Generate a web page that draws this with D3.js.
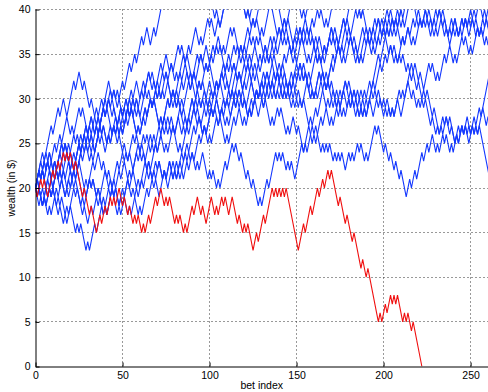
<!DOCTYPE html>
<html>
<head>
<meta charset="utf-8">
<script src="https://cdn.jsdelivr.net/npm/d3@7"></script>
<style>
  body { margin: 0; background: #fff; }
  text { font-family: "Liberation Sans", Arial, Helvetica, sans-serif; }
</style>
</head>
<body>
<svg id="chart" width="488" height="392"></svg>
<script>
// every walk starts with $20; each entry is a run of won (+) or lost (-) bets
const startWealth = 20;
const xTicks = [0, 50, 100, 150, 200, 250];
const yTicks = [0, 5, 10, 15, 20, 25, 30, 35, 40];

const redWalk = [-1,2,-1,1,-2,3,-1,2,-1,2,-1,1,-1,1,-2,1,-4,1,-3,1,-3,2,-1,2,-1,2,-1,1,-1,2,-2,1,-2,1,-2,1,-1,1,-2,1,-1,2,-1,3,-1,2,-2,1,-1,1,-3,1,-1,1,-2,1,-1,3,-1,2,-2,1,-2,
  3,-2,1,-1,2,-1,1,-2,2,-3,1,-2,1,-1,1,-3,2,-1,3,-1,4,-1,1,-1,1,-1,1,-1,1,-7,3,-1,3,-1,3,-1,2,-1,2,-1,1,-4,1,-3,1,-3,1,-4,1,-2,1,-6,1,-1,2,-1,2,-1,1,-1,1,-3,1,-1,1,-2,1,-5];

const walk01 = [4,-1,4,-1,3,-1,2,-2,4,-1,2,-2,1,-3,1,-3,1,-1,3,-1,2,-1,1,-2,3,-1,3,-1,2,-1,3,-1,2,-2,2,-1,6,-1,2,-2,1,-3,2,-1,3,-2,1,-2,2,-3,1,-2,1,-2,3,-1,2,-1,2,-2,1,-3,1,-2,1,-1,3,-1,2,-2,1,-4,1,-1,2,-1,3,-1,2,-1,3,-2,2,-1,3];
const walk02 = [-1,1,-2,1,-1,2,-1,1,-3,1,-2,2,-1,1,-3,1,-1,1,-3,1,-1,3,-1,3,-1,1,-1,3,-1,3,-1,2,-2,1,-1,3,-1,2,-2,3,-1,1,-2,3,-1,2,-1,1,-2,3,-1,1,-2,3,-1,2,-2,1,-2,3,-1,2,-1,1,-3,2,-1,3,-1,1,-2,3,-2,1,-1,2,-1,3,-2,1,-3,1,-1,3,-1,2,-2,1,-1,3,-1,2,-2,1,-3,1,-1,2,-1,3,-2,1,-1,3,-1,1,-2,3,-1,1,-1,3,-1,3,-2,2];
const walk03 = [2,-1,1,-1,2,-2,1,-1,2,-1,1,-3,1,-1,2,-1,1,-3,1,-1,2,-1,1,-2,1,-2,1,-1,2,-1,1,-3,1,-1,2,-2,1,-1,3,-1,2,-1,3,-2,1,-1,2,-2,1,-2,2,-1,2,-1,1,-2,2,-1,2,-2,1,-1,2,-3,1,-1,1,-2,1,-1,3,-1,3,-1,1,-2,1,-3,1,-2,1,-3,1,-1,3,-1,4,-1,1,-1,1,-2,1,-1,1,-2,4,-1,3,-2,1,-1,3,-1,2,-2,1,-1,2,-1,3,-2,1,-1,2,-1,1,-3,1,-1,4,-1,3,-1,2,-1,2,-2,1,-1,3,-1,2,-2,1,-1,3,-1,2,-2,1,-1,2,-1,1,-3,1,-1,2,-1,1,-2,2,-1,1,-1,2,-2,1,-2,1,-1,2,-1];
const walk04 = [-1,1,-2,1,-2,1,-1,2,-1,1,-1,1,-3,4,-1,1,-3,1,-2,2,-1,2,-1,1,-2,1,-1,3,-1,1,-2,1,-1,3,-1,2,-2,1,-1,3,-2,1,-1,2,-1,1,-2,1,-1,2,-1,1,-2,1,-1,3,-1,4,-1,2,-2,1,-1,3,-1,2,-2,1,-1,2,-1,2,-2,1,-1,2,-3,1,-1,3,-1,1,-2,3,-1,1,-2,1,-1,2,-1,1,-3,1,-1,2,-2,1,-3,1,-1,2,-1,4,-1,3,-1,6,-1,3,-1,3];
const walk05 = [2,-1,2,-1,2,-2,1,-1,3,-1,1,-2,3,-1,1,-2,3,-1,2,-2,1,-1,3,-1,2,-1,1,-3,1,-1,3,-1,1,-2,1,-1,4,-1,2,-2,1,-1,3,-1,2,-2,1,-1,3,-1,1,-2,2,-1,3,-2,1,-1,3,-1,1,-2,2,-1,3,-1,2,-1,2,-2,1,-3,1,-1,2,-1,3,-2,1,-1,2,-2,1,-4,1,-1,1,-3,1,-1,2,-1,1,-2,3,-1,2,-1,1,-2,1,-1,3,-1,2,-1,3,-2,1,-3,1,-2,1,-3,1,-1,2,-1,1,-2,3,-1,1,-2,1,-1,3,-1,2,-2,1,-3,1,-1,2,-1,1,-3,1,-1,2,-1,1,-3,2,-1,1,-1,2,-1,1,-2,3,-1,2,-2,1,-1,1];
const walk06 = [1,-1,3,-1,1,-2,1,-1,3,-1,2,-1,1,-2,1,-1,3,-1,2,-2,1,-1,3,-1,2,-1,1,-3,1,-1,3,-1,2,-2,1,-3,1,-1,3,-1,2,-1,1,-3,1,-1,3,-1,2,-2,1,-3,1,-1,3,-1,3,-1,1,-3,1,-1,3,-1,2,-2,1,-1,3,-2,1,-1,2,-1,1,-4,1,-1,2,-1,1,-2,3,-1,1,-3,1,-1,2,-1,1,-3,1,-1,3,-1,1,-2,1,-1,2,-3,1,-1,2,-1,1,-3,1,-1,2,-1,1,-2,1,-1,2,-2,7,-1,4,-1,2,-1,2,-2,1,-1,3,-1,3];
const walk07 = [-2,1,-1,3,-1,1,-2,1,-1,3,-1,2,-2,1,-1,3,-1,2,-2,1,-1,3,-1,1,-2,3,-1,1,-2,2,-1,3,-1,1,-3,1,-1,3,-1,2,-1,1,-3,1,-1,3,-1,2,-1,1,-2,1,-1,3,-1,2,-2,1,-1,3,-1,1,-3,1,-1,3,-1,2,-2,1,-1,3,-1,1,-2,1,-1,3,-1,1,-3,1,-1,3,-1,2,-2,1,-1,1,-2,3,-1,1,-1,2,-2,1,-3,1,-2,1,-1,3,-1,1,-2,1,-1,3,-1,1,-3,1,-1,3,-1,1,-2,1,-1,3,-1,1,-2,1,-1,2,-1,1,-3,1,-1,2,-1,2,-1,2,-2,1,-1,1,-2,2,-1,2,-1,1,-3,1,-1,2,-2,1,-1,2,-1,1,-1,1,-2,1,-1,2,-1,1,-2];
const walk08 = [2,-1,1,-3,1,-1,3,-1,3,-1,1,-2,1,-1,3,-1,2,-2,1,-1,1,-1,3,-1,1,-2,1,-1,2,-1,1,-4,1,-1,3,-1,1,-3,1,-2,1,-1,3,-1,2,-2,1,-1,3,-1,2,-2,1,-1,2,-1,2,-2,1,-1,3,-2,1,-1,1,-2,3,-1,1,-2,3,-1,1,-2,1,-1,3,-2,1,-1,3,-1,1,-2,1,-1,2,-3,1,-1,3,-1,1,-1,2,-2,1,-3,1,-1,3,-1,1,-2,1,-3,1,-1,2,-1,2,-2,1,-1,1,-3,1,-1,2,-1,1,-2,2,-1,1,-2,1,-1,1,-1,1,-1,2,-2,5,-1,2,-2,1,-2,3,-1,1,-2,1,-1,3,-1,2,-2,1,-1,3,-1,1,-2,1,-1,3,-1,1,-2,1,-1];
const walk09 = [1,-2,1,-1,3,-1,2,-2,1,-1,3,-1,1,-2,1,-1,3,-1,2,-1,1,-2,3,-1,1,-2,1,-1,3,-1,2,-2,1,-1,3,-1,1,-2,3,-1,1,-2,2,-1,3,-1,1,-3,1,-1,3,-1,2,-2,1,-1,3,-1,1,-2,1,-1,3,-1,2,-2,1,-1,3,-1,1,-3,1,-1,3,-1,2,-1,1,-2,1,-1,4,-1,3,-1,2,-2,1,-1,1,-3,1,-2,1,-1,2,-1,3,-1,3];
const walk10 = [-1,1,-2,1,-1,3,-1,2,-2,1,-2,3,-1,2,-1,1,-3,1,-1,3,-1,2,-2,1,-3,1,-1,3,-1,3,-2,1,-2,3,-1,2,-1,1,-2,1,-1,3,-1,2,-2,1,-1,1,-3,1,-1,3,-1,3,-1,1,-3,1,-1,3,-1,2,-2,1,-2,1,-1,3,-1,2,-2,1,-2,1,-1,3,-1,1,-2,1,-3,1,-1,2,-1,1,-3,1,-1,2,-2,1,-3,1,-1,3,-1,1,-3,1,-1,1,-1,1,-2,1,-1,1,-1,1,-2,2,-1,1,-1,2,-1,1,-2,1,-1,4,-1,1,-3,1,-2,1,-2,1,-2,1,-3,2,-1,2,-1,3,-1,2,-1,2,-2,1,-1,2,-1,1,-2,1,-1,3,-1,1,-1,2,-2,1,-1,1,-1,1,-6];
const walk11 = [1,-1,2,-1,3,-2,1,-1,3,-1,1,-3,1,-1,3,-1,2,-1,3,-2,1,-1,3,-1,2,-2,1,-3,1,-1,3,-1,2,-1,1,-3,1,-1,3,-1,3,-2,1,-1,2,-3,1,-1,3,-1,2,-2,1,-3,1,-1,2,-1,2,-2,1,-1,3,-1,1,-3,1,-1,3,-2,1,-1,3,-1,1,-3,1,-1,2,-1,3,-2,1,-1,1,-3,1,-1,3,-1,1,-2,1,-3,1,-1,3,-1,1,-2,1,-1,1,-3,1,-1,3,-1,1,-3,1,-1,2,-1,1,-1,2,-2,1,-1,1,-2,1,-1,1,-2,1,-1,3,-1,1,-1,2,-2,1,-2,1,-1,2,-1,1,-3,1,-3,1,-1,2,-1,1,-3,1,-1,2,-1,1,-1,1,-1,1,-1,1,-1,7];
const walk12 = [2,-1,1,-3,1,-1,3,-1,1,-3,1,-1,2,-1,1,-3,1,-1,3,-1,1,-2,1,-1,3,-1,1,-2,1,-3,2,-1,2,-2,1,-3,1,-1,3,-1,2,-1,1,-2,3,-1,2,-2,1,-1,3,-1,2,-2,1,-1,3,-1,2,-2,1,-1,3,-1,1,-3,1,-1,3,-1,2,-2,1,-1,3,-1,1,-2,3,-1,2,-2,1,-1,3,-1,1,-3,1,-1,3,-1,2,-2,1,-1,3,-1,1,-3,1,-1,3,-1,2,-2,1,-1,3,-1,1,-3,1,-1,3,-1,2,-2,1,-1,3,-1,1,-2,1,-1,3,-1,3,-1,2];
const walk13 = [3,-1,2,-2,3,-1,2,-1,3,-2,1,-1,3,-1,1,-3,1,-1,3,-1,2,-1,3,-2,1,-1,1,-3,1,-1,3,-1,2,-2,1,-1,3,-1,1,-3,1,-1,3,-1,2,-2,1,-1,3,-1,1,-3,1,-1,3,-1,2,-2,1,-1,2,-1,1,-3,1,-1,3,-1,1,-2,1,-1,3,-1,1,-3,1,-1,2,-1,2,-2,1,-1,3,-1,1,-3,1,-1,2,-1,1,-3,1,-1,3,-1,1,-2,1,-1,3,-1,1,-3,1,-1,2,-1,1,-3,1,-1,3,-1,1,-2,1,-1,3,-1,1,-3,1,-1,1,-2,1,-1,1,-2,1,-1,1,-3,1,-3,1,-3,1,-2,1,-1,2,-1,1,-2,1,-2,1,-1,2,-1,1,-2,3,-1,2,-1,1,-2,1];

const blueWalks = [walk01, walk02, walk03, walk04, walk05, walk06, walk07, walk08, walk09, walk10, walk11, walk12, walk13];

const svg = d3.select('#chart');
const x = d3.scaleLinear().domain([0, 260]).range([35.5, 488]);
const y = d3.scaleLinear().domain([0, 40]).range([366.5, 9.5]);
const crisp = v => Math.round(v - 0.5) + 0.5;

// turn runs of bets into wealth at each turning point
function wealthPath(runs) {
    let bet = 0, wealth = startWealth;
    const pts = [[bet, wealth]];
    runs.forEach(r => {
        bet += Math.abs(r);
        wealth += r;
        pts.push([bet, wealth]);
    });
    return pts;
}

// dotted grid
svg.append('g').selectAll('line')
    .data(xTicks.filter(d => d > 0)).join('line')
    .attr('x1', d => crisp(x(d))).attr('x2', d => crisp(x(d)))
    .attr('y1', y(0)).attr('y2', y(40))
    .attr('stroke', '#333').attr('stroke-dasharray', '1,3');
svg.append('g').selectAll('line')
    .data(yTicks.filter(d => d > 0)).join('line')
    .attr('x1', x(0)).attr('x2', x(260))
    .attr('y1', d => crisp(y(d))).attr('y2', d => crisp(y(d)))
    .attr('stroke', '#333').attr('stroke-dasharray', '1,3');

svg.append('clipPath').attr('id', 'plotclip')
    .append('rect')
    .attr('x', x(0)).attr('y', y(40))
    .attr('width', x(260) - x(0)).attr('height', y(0) - y(40));

const line = d3.line().x(d => x(d[0])).y(d => y(d[1]));

const plot = svg.append('g').attr('clip-path', 'url(#plotclip)');
plot.selectAll('path.blue')
    .data(blueWalks.map(wealthPath)).join('path')
    .attr('class', 'blue')
    .attr('d', line)
    .attr('fill', 'none')
    .attr('stroke', '#1438ff')
    .attr('stroke-width', 1.1);
plot.append('path')
    .datum(wealthPath(redWalk))
    .attr('d', line)
    .attr('fill', 'none')
    .attr('stroke', '#f01010')
    .attr('stroke-width', 1.1);

// axes, ticks pointing inward like matlab
const xAxis = svg.append('g')
    .attr('transform', `translate(0,${y(0)})`)
    .call(d3.axisBottom(x).tickValues(xTicks).tickSize(-4).tickSizeOuter(0).tickPadding(5));
const yAxis = svg.append('g')
    .attr('transform', `translate(${x(0)},0)`)
    .call(d3.axisLeft(y).tickValues(yTicks).tickSize(-4).tickSizeOuter(0).tickPadding(5));

[xAxis, yAxis].forEach(a => {
    a.selectAll('text').attr('font-size', 10.5).attr('fill', '#000')
        .style('font-family', '"Liberation Sans", Arial, Helvetica, sans-serif');
    a.select('.domain').attr('stroke', '#000');
    a.selectAll('.tick line').attr('stroke', '#000');
});

svg.append('text')
    .attr('x', (x(0) + x(260)) / 2)
    .attr('y', 389)
    .attr('text-anchor', 'middle')
    .attr('font-size', 10.5)
    .text('bet index');

svg.append('text')
    .attr('transform', `translate(15,${(y(0) + y(40)) / 2}) rotate(-90)`)
    .attr('text-anchor', 'middle')
    .attr('font-size', 10.5)
    .text('wealth (in $)');
</script>
</body>
</html>
